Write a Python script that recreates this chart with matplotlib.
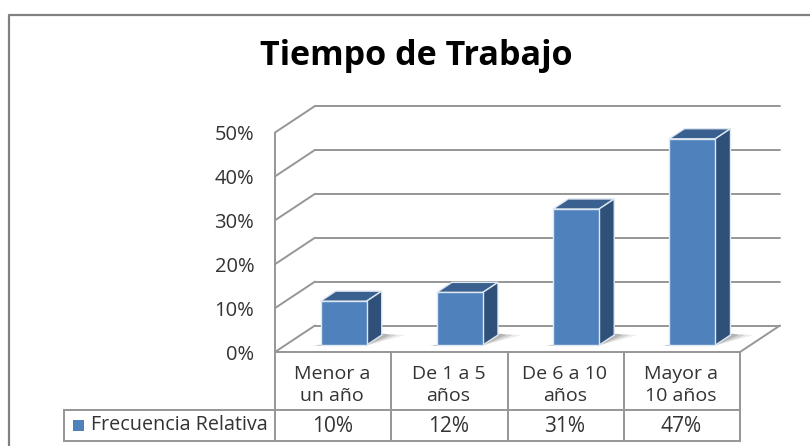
import matplotlib
matplotlib.use('Agg')
import matplotlib.pyplot as plt

categories = ['Menor a\nun año', 'De 1 a 5\naños', 'De 6 a 10\naños', 'Mayor a\n10 años']
values = [10, 12, 31, 47]
value_labels = ['10%', '12%', '31%', '47%']
y_ticks = [0, 10, 20, 30, 40, 50]
series_name = 'Frecuencia Relativa'
title = 'Tiempo de Trabajo'

W, H = 810, 446
FONT = 'Open Sans'
GRID = '#969696'
TEXT = '#333333'
FRONT = '#4f81bd'
SIDE = '#2f5078'
TOP = '#3a6090'

fig = plt.figure(figsize=(W / 100, H / 100), dpi=100)

# overlay in pixel coords for the frame and the table
px = fig.add_axes([0, 0, 1, 1])
px.set_xlim(0, W)
px.set_ylim(H, 0)
px.axis('off')

# plot axes = front plane of the 3d box
left, right, y0, y50 = 275, 740, 352, 132.5
ax = fig.add_axes([left / W, 1 - y0 / H, (right - left) / W, (y0 - y50) / H])
ax.set_xlim(0, len(categories))
ax.set_ylim(0, 50)
ax.axis('off')
ax.patch.set_alpha(0)

depth_x = 40 / ((right - left) / len(categories))
depth_y = 26.5 / ((y0 - y50) / 50)


def proj(x, y, d):
    return x + d * depth_x, y + d * depth_y


def seg(a, b, **kw):
    ax.plot([a[0], b[0]], [a[1], b[1]], clip_on=False, solid_capstyle='round', **kw)


# frame
px.plot([9, 9, W], [H, 15, 15], color='#808080', lw=1.6, clip_on=False)

n = len(categories)
# gridlines, wall and floor
for t in y_ticks:
    seg(proj(0, t, 0), proj(0, t, 1), color=GRID, lw=1.4)
    seg(proj(0, t, 1), proj(n, t, 1), color=GRID, lw=1.4)
seg(proj(0, 0, 0), proj(0, 50, 0), color=GRID, lw=1.4)
seg(proj(n, 0, 0), proj(n, 0, 1), color=GRID, lw=1.4)
seg(proj(0, 0, 0), proj(n, 0, 0), color=GRID, lw=1.4)

# bars
d1, d2 = 0.26, 0.64
half = 0.198
for i, v in enumerate(values):
    c = i + 0.5
    x1, x2 = c - half, c + half
    # soft floor shadow
    for grow, alpha in [(0.2, 0.15), (0.13, 0.25), (0.07, 0.35)]:
        sx = [proj(x1 - grow / 3, 0, d1 - 0.03), proj(x2, 0, d1 - 0.03), proj(x2 + grow, 0, d2),
              proj(x2, 0, d2 + 0.05)]
        ax.fill(*zip(*sx), color='#808080', alpha=alpha, lw=0, clip_on=False, zorder=3)
    top = [proj(x1, v, d1), proj(x2, v, d1), proj(x2, v, d2), proj(x1, v, d2)]
    side = [proj(x2, 0, d1), proj(x2, v, d1), proj(x2, v, d2), proj(x2, 0, d2)]
    front = [proj(x1, 0, d1), proj(x2, 0, d1), proj(x2, v, d1), proj(x1, v, d1)]
    ax.fill(*zip(*top), facecolor=TOP, edgecolor='#dfe7f1', lw=1, clip_on=False, zorder=4)
    ax.fill(*zip(*side), facecolor=SIDE, edgecolor='#dfe7f1', lw=1, clip_on=False, zorder=4)
    ax.fill(*zip(*front), facecolor=FRONT, edgecolor='#dfe7f1', lw=1, clip_on=False, zorder=5)

# y tick labels
for t in y_ticks:
    ax.annotate(f'{t}%', (0, t), xytext=(-15, -2), textcoords='offset points', ha='right',
                va='center', fontsize=14.5, color=TEXT, family=FONT, annotation_clip=False)

# data table
row1, row2, row3 = y0, 410, 441
col_w = (right - left) / n
for i in range(n + 1):
    x = left + i * col_w
    px.plot([x, x], [row1, row3], color=GRID, lw=1.4)
px.plot([64, right], [row2, row2], color=GRID, lw=1.4)
px.plot([64, right], [row3, row3], color=GRID, lw=1.4)
px.plot([64, 64], [row2, row3], color=GRID, lw=1.4)
for i in range(n):
    x = left + (i + 0.5) * col_w
    px.text(x - 1, (row1 + row2) / 2 + 4, categories[i], ha='center', va='center', fontsize=14,
            color=TEXT, family=FONT, linespacing=1.3)
    px.text(x - 1, (row2 + row3) / 2 + 0.5, value_labels[i], ha='center', va='center', fontsize=15,
            color=TEXT, family=FONT)
px.fill([73, 84, 84, 73], [420, 420, 431, 431], color=FRONT, lw=0)
px.text(91, (row2 + row3) / 2, series_name, ha='left', va='center', fontsize=14.2,
        color=TEXT, family=FONT)

px.text(416, 56, title, ha='center', va='center', fontsize=24.6, fontweight='bold',
        color='black', family=FONT)

fig.savefig('out.png', dpi=100)
